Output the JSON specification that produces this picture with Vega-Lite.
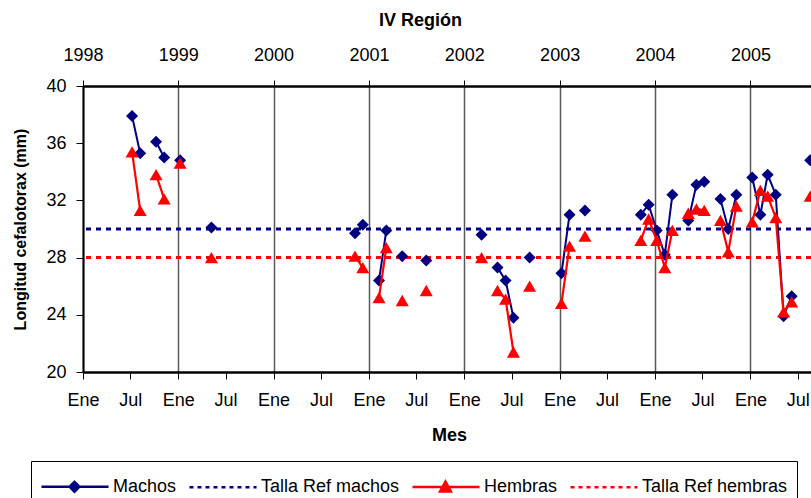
{
  "$schema": "https://vega.github.io/schema/vega-lite/v6.json",
  "width": 728,
  "height": 286,
  "autosize": {"type": "none"},
  "padding": {"left": 83, "top": 86, "right": 0, "bottom": 126},
  "background": "white",
  "config": {
    "view": {"stroke": null},
    "font": "Liberation Sans",
    "axis": {"labelFont": "Liberation Sans", "titleFont": "Liberation Sans", "labelColor": "black", "titleColor": "black", "domainColor": "black", "tickColor": "black", "labelFlush": false, "labelOverlap": false},
    "legend": {"orient": "none", "legendX": -52, "legendY": 375, "direction": "horizontal", "strokeColor": "black", "padding": 9, "symbolSize": 900, "labelOffset": 40, "columnPadding": 7, "labelFont": "Liberation Sans", "labelFontSize": 18, "labelColor": "black", "symbolStrokeWidth": 2.5, "titleFontSize": 0}
  },
  "datasets": {
    "medidas": [
      {"fecha": "1998-07-08", "serie": "Machos", "valor": 37.9, "tramo": 1},
      {"fecha": "1998-08-08", "serie": "Machos", "valor": 35.3, "tramo": 1},
      {"fecha": "1998-10-08", "serie": "Machos", "valor": 36.1, "tramo": 2},
      {"fecha": "1998-11-08", "serie": "Machos", "valor": 35.0, "tramo": 2},
      {"fecha": "1999-01-08", "serie": "Machos", "valor": 34.8, "tramo": 3},
      {"fecha": "1999-05-08", "serie": "Machos", "valor": 30.1, "tramo": 4},
      {"fecha": "2000-11-08", "serie": "Machos", "valor": 29.7, "tramo": 5},
      {"fecha": "2000-12-08", "serie": "Machos", "valor": 30.3, "tramo": 5},
      {"fecha": "2001-02-08", "serie": "Machos", "valor": 26.4, "tramo": 6},
      {"fecha": "2001-03-08", "serie": "Machos", "valor": 29.9, "tramo": 6},
      {"fecha": "2001-05-08", "serie": "Machos", "valor": 28.1, "tramo": 7},
      {"fecha": "2001-08-08", "serie": "Machos", "valor": 27.8, "tramo": 8},
      {"fecha": "2002-03-08", "serie": "Machos", "valor": 29.6, "tramo": 9},
      {"fecha": "2002-05-08", "serie": "Machos", "valor": 27.3, "tramo": 10},
      {"fecha": "2002-06-08", "serie": "Machos", "valor": 26.4, "tramo": 10},
      {"fecha": "2002-07-08", "serie": "Machos", "valor": 23.8, "tramo": 10},
      {"fecha": "2002-09-08", "serie": "Machos", "valor": 28.0, "tramo": 11},
      {"fecha": "2003-01-08", "serie": "Machos", "valor": 26.9, "tramo": 12},
      {"fecha": "2003-02-08", "serie": "Machos", "valor": 31.0, "tramo": 12},
      {"fecha": "2003-04-08", "serie": "Machos", "valor": 31.3, "tramo": 13},
      {"fecha": "2003-11-08", "serie": "Machos", "valor": 31.0, "tramo": 14},
      {"fecha": "2003-12-08", "serie": "Machos", "valor": 31.7, "tramo": 14},
      {"fecha": "2004-01-08", "serie": "Machos", "valor": 29.9, "tramo": 14},
      {"fecha": "2004-02-08", "serie": "Machos", "valor": 28.2, "tramo": 14},
      {"fecha": "2004-03-08", "serie": "Machos", "valor": 32.4, "tramo": 14},
      {"fecha": "2004-05-08", "serie": "Machos", "valor": 30.6, "tramo": 15},
      {"fecha": "2004-06-08", "serie": "Machos", "valor": 33.1, "tramo": 15},
      {"fecha": "2004-07-08", "serie": "Machos", "valor": 33.3, "tramo": 15},
      {"fecha": "2004-09-08", "serie": "Machos", "valor": 32.1, "tramo": 16},
      {"fecha": "2004-10-08", "serie": "Machos", "valor": 30.0, "tramo": 16},
      {"fecha": "2004-11-08", "serie": "Machos", "valor": 32.4, "tramo": 16},
      {"fecha": "2005-01-08", "serie": "Machos", "valor": 33.6, "tramo": 17},
      {"fecha": "2005-02-08", "serie": "Machos", "valor": 31.0, "tramo": 17},
      {"fecha": "2005-03-08", "serie": "Machos", "valor": 33.8, "tramo": 17},
      {"fecha": "2005-04-08", "serie": "Machos", "valor": 32.4, "tramo": 17},
      {"fecha": "2005-05-08", "serie": "Machos", "valor": 23.9, "tramo": 17},
      {"fecha": "2005-06-08", "serie": "Machos", "valor": 25.3, "tramo": 17},
      {"fecha": "2005-08-18", "serie": "Machos", "valor": 34.8, "tramo": 18},
      {"fecha": "1998-07-08", "serie": "Hembras", "valor": 35.4, "tramo": 1},
      {"fecha": "1998-08-08", "serie": "Hembras", "valor": 31.3, "tramo": 1},
      {"fecha": "1998-10-08", "serie": "Hembras", "valor": 33.8, "tramo": 2},
      {"fecha": "1998-11-08", "serie": "Hembras", "valor": 32.1, "tramo": 2},
      {"fecha": "1999-01-08", "serie": "Hembras", "valor": 34.6, "tramo": 3},
      {"fecha": "1999-05-08", "serie": "Hembras", "valor": 28.0, "tramo": 4},
      {"fecha": "2000-11-08", "serie": "Hembras", "valor": 28.1, "tramo": 5},
      {"fecha": "2000-12-08", "serie": "Hembras", "valor": 27.3, "tramo": 5},
      {"fecha": "2001-02-08", "serie": "Hembras", "valor": 25.2, "tramo": 6},
      {"fecha": "2001-03-08", "serie": "Hembras", "valor": 28.7, "tramo": 6},
      {"fecha": "2001-05-08", "serie": "Hembras", "valor": 25.0, "tramo": 7},
      {"fecha": "2001-08-08", "serie": "Hembras", "valor": 25.7, "tramo": 8},
      {"fecha": "2002-03-08", "serie": "Hembras", "valor": 28.0, "tramo": 9},
      {"fecha": "2002-05-08", "serie": "Hembras", "valor": 25.7, "tramo": 10},
      {"fecha": "2002-06-08", "serie": "Hembras", "valor": 25.1, "tramo": 10},
      {"fecha": "2002-07-08", "serie": "Hembras", "valor": 21.4, "tramo": 10},
      {"fecha": "2002-09-08", "serie": "Hembras", "valor": 26.0, "tramo": 11},
      {"fecha": "2003-01-08", "serie": "Hembras", "valor": 24.8, "tramo": 12},
      {"fecha": "2003-02-08", "serie": "Hembras", "valor": 28.8, "tramo": 12},
      {"fecha": "2003-04-08", "serie": "Hembras", "valor": 29.5, "tramo": 13},
      {"fecha": "2003-11-08", "serie": "Hembras", "valor": 29.2, "tramo": 14},
      {"fecha": "2003-12-08", "serie": "Hembras", "valor": 30.7, "tramo": 14},
      {"fecha": "2004-01-08", "serie": "Hembras", "valor": 29.2, "tramo": 14},
      {"fecha": "2004-02-08", "serie": "Hembras", "valor": 27.3, "tramo": 14},
      {"fecha": "2004-03-08", "serie": "Hembras", "valor": 29.9, "tramo": 14},
      {"fecha": "2004-05-08", "serie": "Hembras", "valor": 31.1, "tramo": 15},
      {"fecha": "2004-06-08", "serie": "Hembras", "valor": 31.4, "tramo": 15},
      {"fecha": "2004-07-08", "serie": "Hembras", "valor": 31.3, "tramo": 15},
      {"fecha": "2004-09-08", "serie": "Hembras", "valor": 30.6, "tramo": 16},
      {"fecha": "2004-10-08", "serie": "Hembras", "valor": 28.4, "tramo": 16},
      {"fecha": "2004-11-08", "serie": "Hembras", "valor": 31.6, "tramo": 16},
      {"fecha": "2005-01-08", "serie": "Hembras", "valor": 30.5, "tramo": 17},
      {"fecha": "2005-02-08", "serie": "Hembras", "valor": 32.7, "tramo": 17},
      {"fecha": "2005-03-08", "serie": "Hembras", "valor": 32.3, "tramo": 17},
      {"fecha": "2005-04-08", "serie": "Hembras", "valor": 30.8, "tramo": 17},
      {"fecha": "2005-05-08", "serie": "Hembras", "valor": 24.2, "tramo": 17},
      {"fecha": "2005-06-08", "serie": "Hembras", "valor": 24.9, "tramo": 17},
      {"fecha": "2005-08-18", "serie": "Hembras", "valor": 32.3, "tramo": 18}
    ],
    "referencias": [
      {"serie": "Talla Ref machos", "valor": 30},
      {"serie": "Talla Ref hembras", "valor": 28}
    ]
  },
  "resolve": {"axis": {"x": "independent", "y": "independent"}},
  "layer": [
    {
      "data": {"name": "referencias"},
      "transform": [{"filter": "false"}],
      "mark": {"type": "point", "filled": false, "strokeWidth": 2.5, "opacity": 1},
      "encoding": {
        "color": {"field": "serie", "type": "nominal",
          "scale": {"domain": ["Machos", "Talla Ref machos", "Hembras", "Talla Ref hembras"], "range": ["#000080", "#000080", "#FF0000", "#FF0000"]},
          "legend": {"title": null}},
        "fill": {"field": "serie", "type": "nominal",
          "scale": {"domain": ["Machos", "Talla Ref machos", "Hembras", "Talla Ref hembras"], "range": ["#000080", "transparent", "#FF0000", "transparent"]},
          "legend": {"title": null}},
        "shape": {"field": "serie", "type": "nominal",
          "scale": {"domain": ["Machos", "Talla Ref machos", "Hembras", "Talla Ref hembras"], "range": ["M-1,0H3.47M1.2,-0.33L1.53,0L1.2,0.33L0.87,0Z", "M-1,0H3.47", "M-1,0H3.47M1.2,-0.36L1.56,0.3L0.84,0.3Z", "M-1,0H3.47"]},
          "legend": {"title": null}},
        "strokeDash": {"field": "serie", "type": "nominal",
          "scale": {"domain": ["Machos", "Talla Ref machos", "Hembras", "Talla Ref hembras"], "range": [[1, 0], [4, 4], [1, 0], [4, 4]]},
          "legend": {"title": null}}
      }
    },
    {
      "data": {"name": "referencias"},
      "mark": {"type": "rule", "strokeDash": [5, 5], "strokeWidth": 3},
      "encoding": {
        "y": {"field": "valor", "type": "quantitative", "scale": {"domain": [20, 40], "nice": false, "zero": false},
          "axis": {"values": [20, 24, 28, 32, 36, 40], "tickSize": 7, "labelPadding": 10, "labelFontSize": 18, "domainWidth": 2, "grid": false,
            "title": "Longitud cefalotorax (mm)", "titleFontSize": 16, "titleFontWeight": "bold", "titleX": -63, "titleY": 143, "titleAngle": -90, "titleAlign": "center", "titleBaseline": "middle"}},
        "color": {"field": "serie", "type": "nominal", "legend": null}
      }
    },
    {
      "data": {"name": "medidas"},
      "transform": [{"filter": "datum.serie == 'Machos'"}],
      "mark": {"type": "line", "strokeWidth": 2},
      "encoding": {
        "x": {"field": "fecha", "type": "temporal",
          "scale": {"type": "utc", "domain": [{"year": 1998, "month": 1, "date": 1, "utc": true}, {"year": 2005, "month": 8, "date": 21, "utc": true}]},
          "axis": {"orient": "bottom", "values": [
            {"year": 1998, "month": 1, "date": 1, "utc": true}, {"year": 1998, "month": 7, "date": 1, "utc": true},
            {"year": 1999, "month": 1, "date": 1, "utc": true}, {"year": 1999, "month": 7, "date": 1, "utc": true},
            {"year": 2000, "month": 1, "date": 1, "utc": true}, {"year": 2000, "month": 7, "date": 1, "utc": true},
            {"year": 2001, "month": 1, "date": 1, "utc": true}, {"year": 2001, "month": 7, "date": 1, "utc": true},
            {"year": 2002, "month": 1, "date": 1, "utc": true}, {"year": 2002, "month": 7, "date": 1, "utc": true},
            {"year": 2003, "month": 1, "date": 1, "utc": true}, {"year": 2003, "month": 7, "date": 1, "utc": true},
            {"year": 2004, "month": 1, "date": 1, "utc": true}, {"year": 2004, "month": 7, "date": 1, "utc": true},
            {"year": 2005, "month": 1, "date": 1, "utc": true}, {"year": 2005, "month": 7, "date": 1, "utc": true}],
            "labelExpr": "utcFormat(datum.value, '%m') == '01' ? 'Ene' : 'Jul'",
            "tickSize": 7, "labelPadding": 12, "labelFontSize": 18, "domainWidth": 2.5, "grid": false,
            "title": "Mes", "titleFontSize": 18, "titleFontWeight": "bold", "titleX": 366, "titleY": 63, "titleAlign": "center", "titleBaseline": "middle"}},
        "y": {"field": "valor", "type": "quantitative", "axis": null},
        "detail": {"field": "tramo", "type": "nominal"},
        "color": {"field": "serie", "type": "nominal", "legend": null}
      }
    },
    {
      "data": {"name": "medidas"},
      "transform": [{"filter": "datum.serie == 'Machos'"}],
      "mark": {"type": "point", "shape": "diamond", "filled": true, "size": 144, "opacity": 1},
      "encoding": {
        "x": {"field": "fecha", "type": "temporal",
          "axis": {"orient": "top", "values": [
            {"year": 1998, "month": 1, "date": 1, "utc": true}, {"year": 1999, "month": 1, "date": 1, "utc": true},
            {"year": 2000, "month": 1, "date": 1, "utc": true}, {"year": 2001, "month": 1, "date": 1, "utc": true},
            {"year": 2002, "month": 1, "date": 1, "utc": true}, {"year": 2003, "month": 1, "date": 1, "utc": true},
            {"year": 2004, "month": 1, "date": 1, "utc": true}, {"year": 2005, "month": 1, "date": 1, "utc": true}],
            "labelExpr": "utcFormat(datum.value, '%Y')",
            "tickSize": 6, "labelPadding": 16, "labelFontSize": 18, "domainWidth": 2.5,
            "grid": true, "gridColor": "#5a5a5a", "gridWidth": 1.5,
            "title": "IV Región", "titleFontSize": 18, "titleFontWeight": "bold", "titleX": 337, "titleY": -66, "titleAlign": "center", "titleBaseline": "middle"}},
        "y": {"field": "valor", "type": "quantitative", "axis": null},
        "color": {"field": "serie", "type": "nominal", "legend": null}
      }
    },
    {
      "data": {"name": "medidas"},
      "transform": [{"filter": "datum.serie == 'Hembras'"}],
      "mark": {"type": "line", "strokeWidth": 2.2},
      "encoding": {
        "x": {"field": "fecha", "type": "temporal", "axis": null},
        "y": {"field": "valor", "type": "quantitative", "axis": null},
        "detail": {"field": "tramo", "type": "nominal"},
        "color": {"field": "serie", "type": "nominal", "legend": null}
      }
    },
    {
      "data": {"name": "medidas"},
      "transform": [{"filter": "datum.serie == 'Hembras'"}],
      "mark": {"type": "point", "shape": "triangle-up", "filled": true, "size": 170, "opacity": 1},
      "encoding": {
        "x": {"field": "fecha", "type": "temporal", "axis": null},
        "y": {"field": "valor", "type": "quantitative", "axis": null},
        "color": {"field": "serie", "type": "nominal", "legend": null}
      }
    }
  ]
}
